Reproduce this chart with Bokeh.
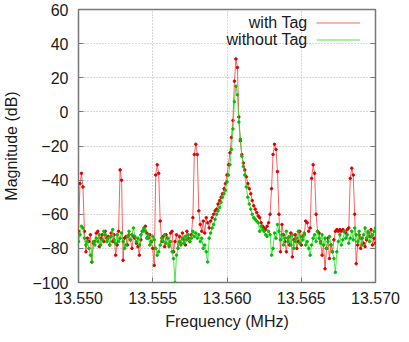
from bokeh.plotting import figure
from bokeh.models import Range1d, NumeralTickFormatter, FixedTicker, Legend, LegendItem, Label, LinearAxis
from bokeh.core.properties import value
from bokeh.embed import file_html
from bokeh.resources import INLINE

f_start = 13.550
f_step = 0.0001

with_tag = [
    -70, -42, -36, -44, -70, -82, -74, -76, -72, -88,
    -77, -76, -71, -70, -79, -74, -72, -76, -70, -74,
    -73, -78, -71, -76, -72, -84, -78, -70, -34, -40,
    -87, -74, -73, -78, -72, -75, -80, -73, -74, -77,
    -79, -84, -75, -70, -69, -67, -71, -74, -72, -76,
    -80, -90, -37, -31, -36, -64, -76, -73, -79, -72,
    -74, -78, -71, -70, -82, -76, -72, -80, -73, -77,
    -71, -75, -78, -70, -74, -76, -72, -62, -25, -19,
    -25, -58, -66, -70, -64, -71, -62, -65, -68, -64,
    -62, -60, -58, -57, -54, -52, -50, -48, -45, -42,
    -37, -31, -24, -15, -5, 18, 31, 26, -3, -17,
    -25, -30, -34, -38, -42, -45, -48, -52, -55, -57,
    -59, -61, -62, -65, -67, -68, -69, -67, -65, -60,
    -45, -25, -19, -22, -35, -60, -82, -66, -72, -76,
    -82, -74, -78, -71, -85, -75, -72, -80, -76, -70,
    -78, -73, -72, -64, -65, -70, -68, -39, -31, -36,
    -60, -70, -71, -76, -84, -78, -92, -80, -74, -86,
    -78, -82, -75, -70, -69, -70, -69, -70, -69, -70,
    -71, -69, -68, -39, -33, -37, -60, -89, -78, -72,
    -80, -74, -77, -79, -75, -71, -73, -69, -78, -74,
    -77,
]

without_tag = [
    -76, -72, -67, -68, -74, -78, -76, -80, -84, -88,
    -76, -78, -74, -76, -72, -78, -75, -70, -72, -76,
    -74, -78, -73, -69, -75, -77, -72, -76, -74, -71,
    -76, -80, -78, -73, -70, -75, -72, -68, -73, -76,
    -74, -78, -72, -70, -68, -70, -74, -72, -78, -76,
    -73, -75, -80, -84, -82, -78, -74, -76, -72, -77,
    -74, -79, -76, -82, -86, -100, -84, -80, -76, -78,
    -74, -77, -73, -75, -72, -76, -74, -70, -73, -71,
    -74, -72, -76, -74, -80, -78, -82, -88, -74, -71,
    -68, -66, -63, -60, -58, -56, -53, -50, -48, -46,
    -41, -37, -31, -22, -10, 6, 15, 10, -6, -16,
    -26, -32, -37, -44, -50, -54, -57, -60, -62, -63,
    -64, -65, -70, -67, -69, -70, -72, -73, -70, -72,
    -84, -80, -71, -74, -66, -70, -75, -72, -78, -74,
    -70, -76, -73, -78, -72, -80, -76, -74, -70, -77,
    -73, -75, -71, -78, -76, -80, -84, -78, -74, -72,
    -76, -70, -74, -77, -72, -78, -74, -80, -76, -73,
    -78, -82, -86, -94, -82, -76, -72, -78, -75, -70,
    -74, -72, -77, -74, -70, -75, -68, -72, -76, -70,
    -74, -78, -72, -68, -74, -70, -76, -73, -72, -70,
    -68,
]

series_names = ["with Tag", "without Tag"]

freq = [round(f_start + f_step * i, 4) for i in range(len(with_tag))]

x_ticks = [13.550, 13.555, 13.560, 13.565, 13.570]
y_ticks = [-100, -80, -60, -40, -20, 0, 20, 40, 60]

FONT = "Liberation Sans"

p = figure(width=400, height=332, output_backend="svg", toolbar_location=None,
           x_range=Range1d(13.550, 13.570), y_range=Range1d(-100, 60),
           min_border_left=72, min_border_right=25, min_border_top=9, min_border_bottom=50)

p.background_fill_color = "white"
p.border_fill_color = "white"
p.outline_line_color = "#777777"
p.outline_line_width = 1.5

# mirrored inward ticks on the right side (no labels)
right_ax = LinearAxis(ticker=FixedTicker(ticks=y_ticks), axis_line_color=None,
                      major_tick_in=5, major_tick_out=0, minor_tick_in=0, minor_tick_out=0,
                      major_tick_line_color="#777777", major_label_text_font_size="1px",
                      major_label_text_color=None, major_label_standoff=0)
p.add_layout(right_ax, "right")

for ax in (p.xaxis[0], p.yaxis[0]):
    ax.axis_line_color = None
    ax.major_tick_in = 5
    ax.major_tick_out = 0
    ax.minor_tick_in = 0
    ax.minor_tick_out = 0
    ax.major_tick_line_color = "#777777"
    ax.major_label_text_font = FONT
    ax.major_label_text_font_size = "16px"
    ax.major_label_text_color = "#1a1a1a"
    ax.axis_label_text_font = FONT
    ax.axis_label_text_font_size = "16px"
    ax.axis_label_text_font_style = "normal"
    ax.axis_label_text_color = "#1a1a1a"

p.xaxis[0].ticker = FixedTicker(ticks=x_ticks)
p.xaxis[0].formatter = NumeralTickFormatter(format="0.000")
p.xaxis[0].axis_label = "Frequency (MHz)"
p.xaxis[0].major_label_standoff = 9
p.xaxis[0].axis_label_standoff = 6

p.yaxis[0].ticker = FixedTicker(ticks=y_ticks)
p.yaxis[0].axis_label = "Magnitude (dB)"
p.yaxis[0].major_label_standoff = 10
p.yaxis[0].axis_label_standoff = 9

p.xgrid.ticker = FixedTicker(ticks=x_ticks)
p.ygrid.ticker = FixedTicker(ticks=y_ticks)
for g in (p.xgrid[0], p.ygrid[0]):
    g.grid_line_color = "#b0b0b0"
    g.grid_line_dash = "1 2"
    g.grid_line_width = 1

r_line = p.line(freq, with_tag, line_color="#ff3838", line_width=0.8)
r_pts = p.scatter(freq, with_tag, size=2.5, fill_color="#e00000", line_color="#e00000")
g_line = p.line(freq, without_tag, line_color="#22dd22", line_width=0.8)
g_pts = p.scatter(freq, without_tag, size=2.5, fill_color="#00c000", line_color="#00c000")

# legend: line samples via Legend (blank labels), texts right-aligned to their left
legend = Legend(items=[
    LegendItem(label=value(" "), renderers=[r_line]),
    LegendItem(label=value(" "), renderers=[g_line]),
], location=(238, 234), orientation="vertical")
legend.background_fill_alpha = 0
legend.border_line_color = None
legend.padding = 0
legend.margin = 0
legend.spacing = 0
legend.glyph_width = 44
legend.glyph_height = 17
legend.label_height = 17
legend.label_standoff = 0
legend.label_text_font_size = "4px"
p.add_layout(legend)

for name, y in zip(series_names, (260, 243)):
    p.add_layout(Label(x=229, y=y, x_units="screen", y_units="screen", text=name,
                       text_align="right", text_baseline="middle",
                       text_font=FONT, text_font_size="16px", text_color="#1a1a1a"))

open("out.html", "w").write(file_html(p, INLINE))
